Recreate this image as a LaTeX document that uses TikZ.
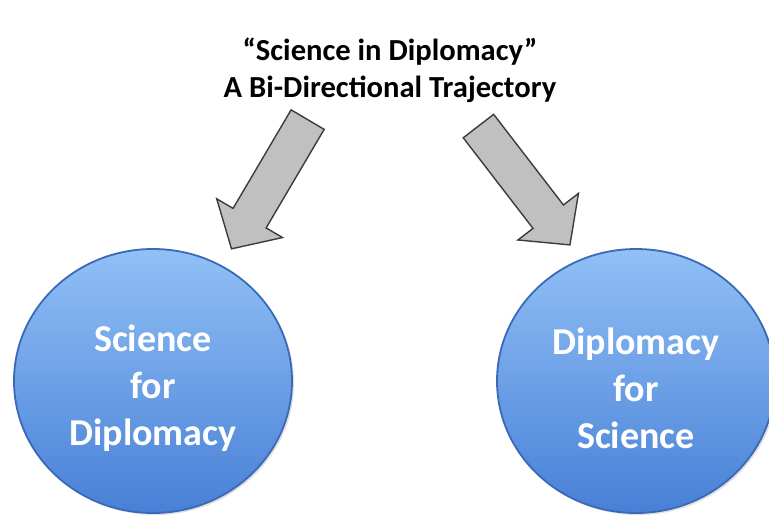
\documentclass[tikz,border=0pt]{standalone}
\usepackage{fontspec}
\setmainfont{Carlito}
\usetikzlibrary{shapes.geometric,shapes.arrows,shadows}
\definecolor{ballTop}{RGB}{145,192,246}
\definecolor{ballMid}{RGB}{96,152,230}
\definecolor{ballBot}{RGB}{72,128,214}
\definecolor{ballRim}{RGB}{58,105,182}
\definecolor{arrGray}{RGB}{192,192,192}
\definecolor{arrRim}{RGB}{60,60,60}
\begin{document}
\begin{tikzpicture}[
    x=0.5pt,y=0.5pt,
    ball/.style={ellipse,draw=ballRim,line width=0.9pt,top color=ballTop,middle color=ballMid,bottom color=ballBot,
      minimum width=278pt*0.5,minimum height=264pt*0.5,inner sep=0pt,
      drop shadow={opacity=0.25,shadow xshift=1pt,shadow yshift=-1pt}},
    balltext/.style={text=white,font=\fontsize{19}{23.5}\selectfont\bfseries,align=center},
    blockarrow/.style={single arrow,draw=arrRim,fill=arrGray,line width=0.7pt,
      inner xsep=0pt,inner ysep=9.25pt,single arrow head extend=9.5pt,
      single arrow tip angle=94,minimum height=75pt,anchor=tail},
  ]
  \useasboundingbox (0,0) rectangle (769,516);
  \node[font=\fontsize{15.3}{18.5}\selectfont\bfseries,align=center] (title) at (390,446)
    {``Science in Diplomacy''\\A Bi-Directional Trajectory};
  \node[ball] (sfd) at (153,135) {};
  \node[ball] (dfs) at (636,135) {};
  \node[balltext] (sfdtxt) at ([yshift=-3.5pt]sfd.center) {Science\\for\\Diplomacy};
  \node[balltext] (dfstxt) at ([yshift=-3.5pt]dfs.center) {Diplomacy\\for\\Science};
  \node[blockarrow,rotate=239.5] (arrL) at (308,397) {};
  \node[blockarrow,rotate=-52.4] (arrR) at (478,390.5) {};
\end{tikzpicture}
\end{document}
